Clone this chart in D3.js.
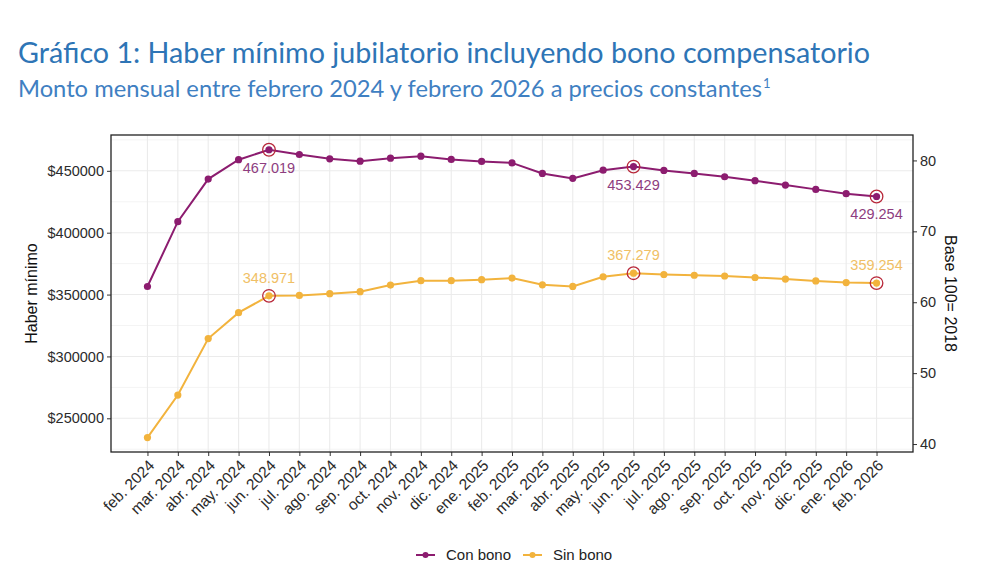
<!DOCTYPE html>
<html>
<head>
<meta charset="utf-8">
<script src="https://cdn.jsdelivr.net/npm/d3@7"></script>
<style>
  body { margin: 0; background: #fff; }
  svg { display: block; }
</style>
</head>
<body>
<svg id="chart" width="985" height="577"></svg>
<script>
// months shown on the x axis
const months = ["feb. 2024", "mar. 2024", "abr. 2024", "may. 2024", "jun. 2024", "jul. 2024",
  "ago. 2024", "sep. 2024", "oct. 2024", "nov. 2024", "dic. 2024", "ene. 2025", "feb. 2025",
  "mar. 2025", "abr. 2025", "may. 2025", "jun. 2025", "jul. 2025", "ago. 2025", "sep. 2025",
  "oct. 2025", "nov. 2025", "dic. 2025", "ene. 2026", "feb. 2026"];

// haber minimo + bono, pesos constantes
const conBono = [356500, 408900, 443300, 459000, 467019, 463200, 459700, 457800, 460200,
  461800, 459200, 457600, 456400, 447900, 443900, 450500, 453429, 450300, 447900,
  445200, 442000, 438500, 435000, 431500, 429254];

// haber minimo solo
const sinBono = [234400, 268800, 314400, 335400, 348971, 349300, 350700, 352300, 357700,
  361200, 361200, 362000, 363300, 357900, 356600, 364400, 367279, 366200, 365600,
  365000, 363800, 362500, 361000, 359700, 359254];

const highlightIdx = [4, 16, 24];

const leftTicks = [250000, 300000, 350000, 400000, 450000];
const rightTicks = [40, 50, 60, 70, 80];
const indexFactor = 5730; // pesos per point of the 2018 index

const svg = d3.select("#chart");
const margin = {top: 135, right: 72, bottom: 125, left: 111};
const W = 985, H = 577;
const iw = W - margin.left - margin.right;
const ih = H - margin.top - margin.bottom;

// title
const fitText = (sel, width) => {
  let fs = parseFloat(sel.attr("font-size"));
  const len = sel.node().getComputedTextLength();
  sel.attr("font-size", (fs * width / len).toFixed(2));
};
const title = svg.append("text")
  .attr("x", 18).attr("y", 63)
  .attr("font-family", "Lato, 'Open Sans', sans-serif")
  .attr("font-size", 28)
  .attr("fill", "#2e75b6")
  .text("Gráfico 1: Haber mínimo jubilatorio incluyendo bono compensatorio");
fitText(title, 852);

const sub = svg.append("text")
  .attr("x", 18).attr("y", 97)
  .attr("font-family", "Lato, 'Open Sans', sans-serif")
  .attr("font-size", 21)
  .attr("fill", "#3f80c2")
  .text("Monto mensual entre febrero 2024 y febrero 2026 a precios constantes");
fitText(sub, 744);
svg.append("text")
  .attr("x", 18 + sub.node().getComputedTextLength() + 1).attr("y", 88)
  .attr("font-family", "Lato, 'Open Sans', sans-serif")
  .attr("font-size", 13)
  .attr("fill", "#3f80c2")
  .text("1");

const g = svg.append("g").attr("transform", `translate(${margin.left},${margin.top})`);

const x = d3.scalePoint().domain(months).range([0, iw]).padding(1.2);
const allVals = conBono.concat(sinBono);
const ext = d3.extent(allVals);
const pad = (ext[1] - ext[0]) * 0.05;
const y = d3.scaleLinear().domain([ext[0] - pad, ext[1] + pad + 300]).range([ih, 0]);
const yR = d3.scaleLinear().domain(y.domain().map(v => v / indexFactor)).range([ih, 0]);

// grid
const minorTicks = d3.range(225000, 480000, 50000);
g.append("g").selectAll("line").data(minorTicks.filter(v => v > y.domain()[0] && v < y.domain()[1]))
  .join("line")
  .attr("x1", 0).attr("x2", iw)
  .attr("y1", d => y(d)).attr("y2", d => y(d))
  .attr("stroke", "#f4f4f4").attr("stroke-width", 1);
g.append("g").selectAll("line").data(leftTicks).join("line")
  .attr("x1", 0).attr("x2", iw)
  .attr("y1", d => y(d)).attr("y2", d => y(d))
  .attr("stroke", "#ebebeb").attr("stroke-width", 1.1);
g.append("g").selectAll("line").data(months).join("line")
  .attr("x1", d => x(d)).attr("x2", d => x(d))
  .attr("y1", 0).attr("y2", ih)
  .attr("stroke", "#ebebeb").attr("stroke-width", 1.1);

// axes
const axisFont = "'Liberation Sans', Arial, sans-serif";
const yAxis = g.append("g")
  .call(d3.axisLeft(y).tickValues(leftTicks).tickSize(4).tickPadding(3).tickFormat(d => "$" + d));
const yAxisR = g.append("g").attr("transform", `translate(${iw},0)`)
  .call(d3.axisRight(yR).tickValues(rightTicks).tickSize(4).tickPadding(3));
const xAxis = g.append("g").attr("transform", `translate(0,${ih})`)
  .call(d3.axisBottom(x).tickSize(4).tickPadding(3));
[yAxis, yAxisR, xAxis].forEach(a => {
  a.attr("font-family", axisFont).attr("font-size", 14.5);
  a.select(".domain").remove();
  a.selectAll("text").attr("fill", "#2b2b2b");
  a.selectAll(".tick line").attr("stroke", "#333");
});
xAxis.selectAll("text")
  .attr("font-size", 15.5)
  .attr("text-anchor", "end")
  .attr("dx", "-5px").attr("dy", "8.5px")
  .attr("transform", "rotate(-45)");

// panel border
g.append("rect").attr("width", iw).attr("height", ih)
  .attr("fill", "none").attr("stroke", "#222").attr("stroke-width", 1.3);

// axis titles
svg.append("text")
  .attr("transform", `translate(37,${margin.top + ih / 2}) rotate(-90)`)
  .attr("text-anchor", "middle")
  .attr("font-family", axisFont).attr("font-size", 16).attr("fill", "#111")
  .text("Haber mínimo");
svg.append("text")
  .attr("transform", `translate(945,${margin.top + ih / 2}) rotate(90)`)
  .attr("text-anchor", "middle")
  .attr("font-family", axisFont).attr("font-size", 16).attr("fill", "#111")
  .text("Base 100= 2018");

// series
const series = [
  {name: "Con bono", values: conBono, color: "#8c1c6f", label: "#8e3d80", dy: 23},
  {name: "Sin bono", values: sinBono, color: "#f2b33d", label: "#f0bf66", dy: -13}
];
const line = d3.line().x((d, i) => x(months[i])).y(d => y(d));
const fmt = v => d3.format(",")(v).replace(/,/g, ".");

series.forEach(s => {
  g.append("path").datum(s.values)
    .attr("d", line).attr("fill", "none")
    .attr("stroke", s.color).attr("stroke-width", 2);
  g.append("g").selectAll("circle").data(s.values).join("circle")
    .attr("cx", (d, i) => x(months[i])).attr("cy", d => y(d))
    .attr("r", 3.6).attr("fill", s.color);
  g.append("g").selectAll("circle").data(highlightIdx).join("circle")
    .attr("cx", i => x(months[i])).attr("cy", i => y(s.values[i]))
    .attr("r", 6.3).attr("fill", "none")
    .attr("stroke", "#b8283a").attr("stroke-width", 1.3);
  g.append("g").selectAll("text").data(highlightIdx).join("text")
    .attr("x", i => x(months[i])).attr("y", i => y(s.values[i]) + s.dy)
    .attr("text-anchor", "middle")
    .attr("font-family", axisFont).attr("font-size", 14.5)
    .attr("fill", s.label)
    .text(i => fmt(s.values[i]));
});

// legend
const legend = svg.append("g").attr("transform", "translate(416,555)");
const legendX = [0, 107];
series.forEach((s, k) => {
  const lg = legend.append("g").attr("transform", `translate(${legendX[k]},0)`);
  lg.append("line").attr("x1", 0).attr("x2", 19).attr("stroke", s.color).attr("stroke-width", 2);
  lg.append("circle").attr("cx", 9.5).attr("r", 3).attr("fill", s.color);
  lg.append("text").attr("x", 30).attr("y", 5)
    .attr("font-family", axisFont).attr("font-size", 15).attr("fill", "#222")
    .text(s.name);
});
</script>
</body>
</html>
